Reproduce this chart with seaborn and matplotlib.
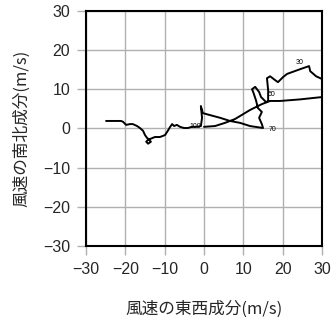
import numpy as np
import pandas as pd
import matplotlib
matplotlib.use('Agg')
import matplotlib.pyplot as plt
import seaborn as sns

# ホドグラフ (風速の東西成分 u, 南北成分 v), m/s
u_wind = [-24.9, -22.6, -21.1, -20.6, -19.8, -18.8, -18.1, -17.0, -16.3, -15.5,
          -15.0, -14.5, -14.0, -13.5, -14.2, -14.7, -14.2, -13.7, -12.5, -11.2,
          -9.9, -9.2, -8.6, -8.1, -7.6, -6.9, -6.1, -5.1, -4.1, -3.1,
          -1.8, -0.8, -0.5, -0.8, -0.3, 1.5, 4.1, 6.6, 9.2, 11.7,
          15.0, 14.7, 14.0, 14.7, 13.7, 13.2, 12.5, 12.2, 13.0, 14.0,
          14.5, 15.8, 16.3, 16.3, 16.0, 16.8, 18.1, 18.8, 20.1, 21.1,
          24.4, 26.7, 27.0, 28.5, 30.0, 33.3, 33.3, 30.0, 24.4, 19.3,
          16.8, 14.7, 11.7, 7.9, 5.3, 2.8, 0.0]
v_wind = [1.9, 1.9, 1.9, 1.7, 0.9, 1.1, 1.1, 0.6, 0.1, -0.6,
          -1.7, -2.4, -2.9, -3.4, -3.9, -3.4, -2.9, -2.7, -2.2, -2.2,
          -1.7, -0.6, 0.4, 1.1, 0.6, 0.9, 0.4, 0.1, 0.1, 0.4,
          0.4, 0.6, 2.7, 5.7, 3.9, 3.4, 2.7, 1.9, 1.4, 0.6,
          0.1, 1.1, 2.7, 4.2, 5.2, 7.2, 9.3, 10.0, 10.6, 9.3,
          8.0, 6.7, 7.0, 9.8, 12.8, 13.3, 12.3, 11.8, 13.1, 13.9,
          15.1, 15.9, 14.6, 13.3, 12.6, 11.1, 8.5, 8.0, 7.4, 7.0,
          7.0, 6.2, 4.7, 2.4, 1.4, 0.6, 0.4]

# 高度ラベル (hPa)
level_labels = ['100', '70', '50', '30']
level_u = [-2.3, 17.4, 17.2, 24.4]
level_v = [0.5, -0.3, 8.6, 16.7]

ticks = [-30, -20, -10, 0, 10, 20, 30]

df = pd.DataFrame({'u': u_wind, 'v': v_wind})

sns.set_style('white')
plt.rcParams['font.family'] = ['Liberation Sans', 'Noto Sans CJK JP', 'DejaVu Sans']

fig = plt.figure(figsize=(3.32, 3.19), dpi=100)
ax = fig.add_axes([0.259, 0.229, 0.711, 0.737])

sns.lineplot(data=df, x='u', y='v', sort=False, estimator=None, color='black',
             linewidth=1.4, ax=ax)

for lab, lu, lv in zip(level_labels, level_u, level_v):
    ax.text(lu, lv, lab, fontsize=5, ha='center', va='center', color='black')

ax.set_xlim(-30, 30)
ax.set_ylim(-30, 30)
ax.set_xticks(ticks)
ax.set_yticks(ticks)
ax.set_xticklabels([str(t).replace('-', '\u2212') for t in ticks])
ax.set_yticklabels([str(t).replace('-', '\u2212') for t in ticks])
ax.grid(True, color='#b0b0b0', linewidth=1.0)
ax.tick_params(direction='out', length=6.5, width=1.0, color='#b0b0b0',
               labelsize=11.5, pad=5, bottom=True, left=True)
for tk in [ax.xaxis.get_major_ticks()[0], ax.xaxis.get_major_ticks()[-1],
           ax.yaxis.get_major_ticks()[0], ax.yaxis.get_major_ticks()[-1]]:
    tk.tick1line.set_color('black')
for sp in ax.spines.values():
    sp.set_visible(True)
    sp.set_color('black')
    sp.set_linewidth(1.5)

ax.set_xlabel('風速の東西成分(m/s)', fontsize=12, family=['Noto Sans CJK JP'], labelpad=17)
ax.set_ylabel('風速の南北成分(m/s)', fontsize=12, family=['Noto Sans CJK JP'], labelpad=9)

fig.savefig('out.png', dpi=100)
